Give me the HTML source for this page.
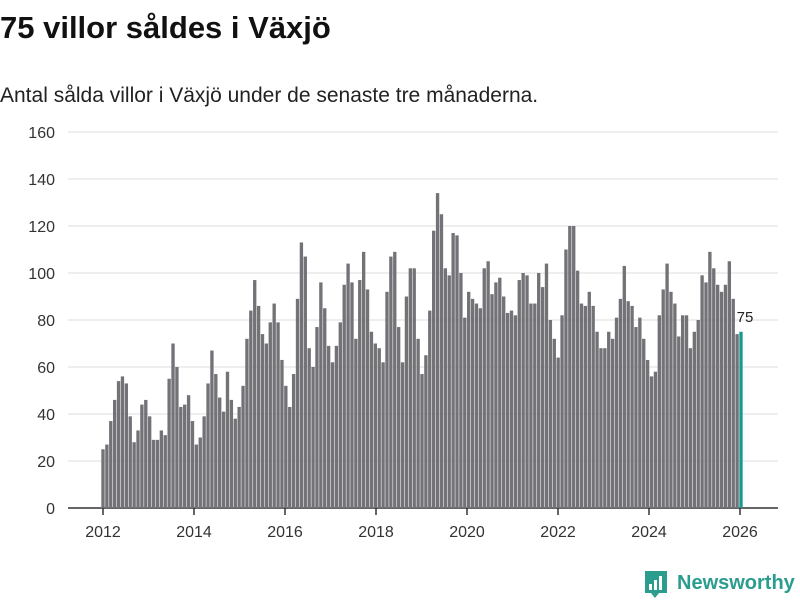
<!DOCTYPE html>
<html><head><meta charset="utf-8"><style>
body{margin:0;background:#fff;font-family:"Liberation Sans",sans-serif;}
#wrap{position:relative;width:800px;height:600px;overflow:hidden;}
h1{position:absolute;left:0;top:10px;margin:0;font-size:31px;font-weight:bold;color:#111;}
p{position:absolute;left:0;top:84px;margin:0;font-size:21px;color:#222;}
</style></head><body>
<div id="wrap">
<h1>75 villor såldes i Växjö</h1>
<p>Antal sålda villor i Växjö under de senaste tre månaderna.</p>
<svg id="chart" width="800" height="600" style="position:absolute;left:0;top:0"></svg>
</div>
<script>
const values=[25,27,37,46,54,56,53,39,28,33,44,46,
39,29,29,33,31,55,70,60,43,44,48,37,
27,30,39,53,67,57,47,41,58,46,38,43,
52,72,84,97,86,74,70,79,87,79,63,52,
43,57,89,113,107,68,60,77,96,85,69,62,
69,79,95,104,96,72,97,109,93,75,70,68,
62,92,107,109,77,62,90,102,102,72,57,65,
84,118,134,125,102,99,117,116,100,81,92,89,
87,85,102,105,91,96,98,90,83,84,82,97,
100,99,87,87,100,94,104,80,72,64,82,110,
120,120,101,87,86,92,86,75,68,68,75,72,
81,89,103,88,86,77,81,72,63,56,58,82,
93,104,92,87,73,82,82,68,75,80,99,96,
109,102,95,92,95,105,89,74,75];
const yTicks=[0,20,40,60,80,100,120,140,160];
const xTicks=["2012","2014","2016","2018","2020","2022","2024","2026"];
const NS="http://www.w3.org/2000/svg";
const svg=document.getElementById('chart');
const y0=508,y1=132,yMax=160;
const yS=v=>y0-(v/yMax)*(y0-y1);
const xFirst=103,xLast=741;
const xS=i=>xFirst+i*(xLast-xFirst)/(values.length-1);
const yearX=yr=>103+(yr-2012)*(740-103)/14;
function mk(t,a){const e=document.createElementNS(NS,t);for(const k in a)e.setAttribute(k,a[k]);svg.appendChild(e);return e;}
yTicks.forEach(t=>{
 const l=mk('line',{x1:68,x2:778,y1:yS(t),y2:yS(t),stroke:t===0?'#333':'#dddddd','stroke-width':t===0?1.5:1});
 
 
 const tx=mk('text',{x:55,y:yS(t)+6,'text-anchor':'end','font-size':16,fill:'#333','font-family':'Liberation Sans, sans-serif'});
 tx.textContent=t;
 
 
});
const bw=(xLast-xFirst)/(values.length-1)*0.86;
values.forEach((v,i)=>{
 const last=i===values.length-1;
 const r=mk('rect',{x:xS(i)-bw/2,y:yS(v),width:bw,height:y0-yS(v),fill:last?'#1a9a8f':'#737277'});
 
 
});
const lv=values[values.length-1];
const lb=mk('text',{x:xS(values.length-1)+4,y:yS(lv)-10,'text-anchor':'middle','font-size':15,fill:'#222','font-family':'Liberation Sans, sans-serif'});
lb.textContent=lv;


xTicks.forEach(t=>{
 const x=yearX(+t);
 const tk=mk('line',{x1:x,x2:x,y1:y0,y2:y0+7,stroke:'#333','stroke-width':1.5});
 
 
 const tx=mk('text',{x:x,y:y0+29,'text-anchor':'middle','font-size':16,fill:'#333','font-family':'Liberation Sans, sans-serif'});
 tx.textContent=t;
 
 
});
const g=mk('g',{});


const ic=document.createElementNS(NS,'path');
ic.setAttribute('d','M645 571h22v22h-8l-4 5-4-5h-6z');
ic.setAttribute('fill','#2a9d8f');
g.appendChild(ic);
[[649,6],[654,10],[659,14]].forEach(b=>{const r=document.createElementNS(NS,'rect');r.setAttribute('x',b[0]);r.setAttribute('y',590-b[1]);r.setAttribute('width',3);r.setAttribute('height',b[1]);r.setAttribute('fill','#fff');g.appendChild(r);});
const lt=document.createElementNS(NS,'text');
lt.setAttribute('x',677);lt.setAttribute('y',589);lt.setAttribute('font-size',20);lt.setAttribute('font-weight','bold');lt.setAttribute('fill','#2a9d8f');lt.setAttribute('font-family','Liberation Sans, sans-serif');
lt.textContent='Newsworthy';
g.appendChild(lt);
</script>
</body></html>
